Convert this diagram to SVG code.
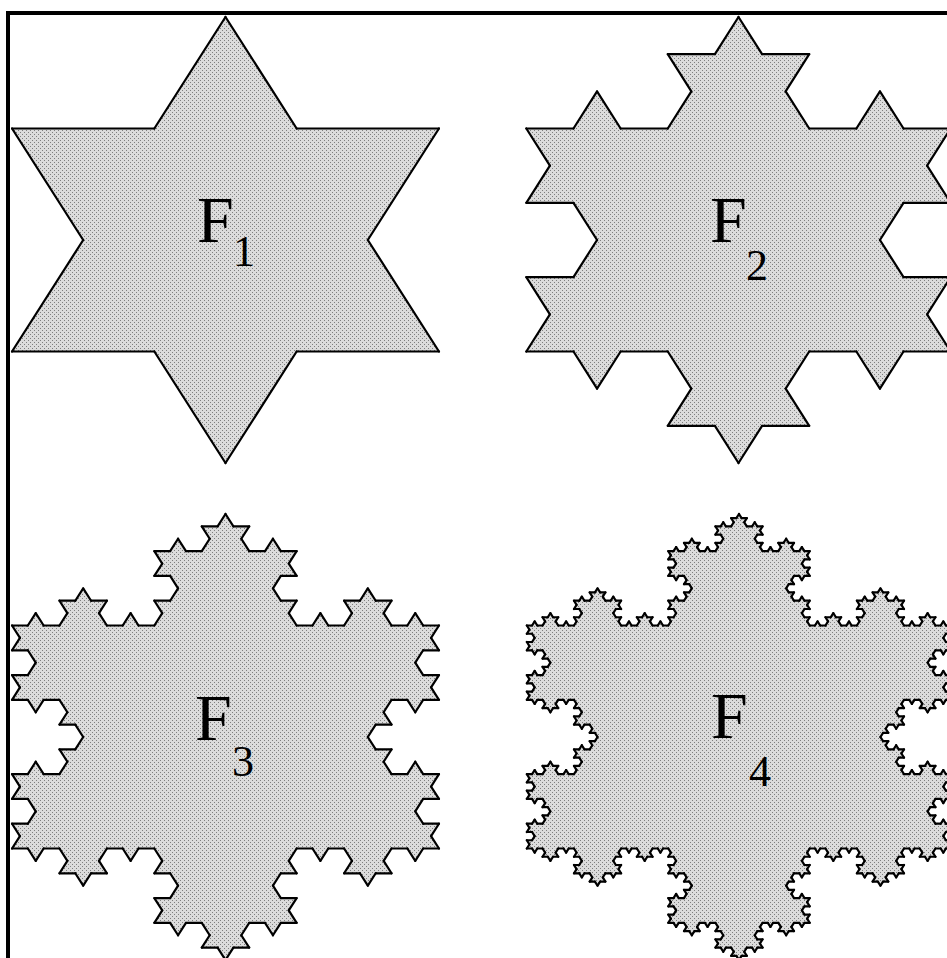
<svg xmlns="http://www.w3.org/2000/svg" xmlns:xlink="http://www.w3.org/1999/xlink" width="947" height="958" viewBox="0 0 947 958">
<style>
.edge{stroke:#000;stroke-width:2.2;stroke-linecap:round;fill:none;vector-effect:non-scaling-stroke}
.ms{fill:#fff;stroke:#fff;stroke-width:1;stroke-linejoin:round;vector-effect:non-scaling-stroke}
.lbl{font-family:"Liberation Serif","Times New Roman",serif;fill:#000}
.big{font-size:66px}
.sub{font-size:44px}
.frame{stroke:#000;stroke-width:4;fill:none;stroke-linejoin:miter}
</style>
<defs>
<pattern id="dots" patternUnits="userSpaceOnUse" width="4" height="4">
<rect width="4" height="4" fill="#dcdcdc"/>
<rect width="1" height="1" fill="#7f7f7f"/>
<rect x="2" y="2" width="1" height="1" fill="#7f7f7f"/>
</pattern>
<!-- Koch curve outlines -->
<line id="k0" class="edge" x1="0" y1="0" x2="1" y2="0"/>
<g id="k1">
<use href="#k0" transform="scale(0.333333)"/>
<use href="#k0" transform="translate(0.333333,0) rotate(-60) scale(0.333333)"/>
<use href="#k0" transform="translate(0.5,-0.288675) rotate(60) scale(0.333333)"/>
<use href="#k0" transform="translate(0.666667,0) scale(0.333333)"/>
</g>
<g id="k2">
<use href="#k1" transform="scale(0.333333)"/>
<use href="#k1" transform="translate(0.333333,0) rotate(-60) scale(0.333333)"/>
<use href="#k1" transform="translate(0.5,-0.288675) rotate(60) scale(0.333333)"/>
<use href="#k1" transform="translate(0.666667,0) scale(0.333333)"/>
</g>
<g id="k3">
<use href="#k2" transform="scale(0.333333)"/>
<use href="#k2" transform="translate(0.333333,0) rotate(-60) scale(0.333333)"/>
<use href="#k2" transform="translate(0.5,-0.288675) rotate(60) scale(0.333333)"/>
<use href="#k2" transform="translate(0.666667,0) scale(0.333333)"/>
</g>
<g id="k4">
<use href="#k3" transform="scale(0.333333)"/>
<use href="#k3" transform="translate(0.333333,0) rotate(-60) scale(0.333333)"/>
<use href="#k3" transform="translate(0.5,-0.288675) rotate(60) scale(0.333333)"/>
<use href="#k3" transform="translate(0.666667,0) scale(0.333333)"/>
</g>
<!-- Koch bump fill regions -->
<polygon id="r1" class="ms" points="0.333333,0 0.5,-0.288675 0.666667,0"/>
<g id="r2">
<use href="#r1"/>
<use href="#r1" transform="scale(0.333333)"/>
<use href="#r1" transform="translate(0.333333,0) rotate(-60) scale(0.333333)"/>
<use href="#r1" transform="translate(0.5,-0.288675) rotate(60) scale(0.333333)"/>
<use href="#r1" transform="translate(0.666667,0) scale(0.333333)"/>
</g>
<g id="r3">
<use href="#r1"/>
<use href="#r2" transform="scale(0.333333)"/>
<use href="#r2" transform="translate(0.333333,0) rotate(-60) scale(0.333333)"/>
<use href="#r2" transform="translate(0.5,-0.288675) rotate(60) scale(0.333333)"/>
<use href="#r2" transform="translate(0.666667,0) scale(0.333333)"/>
</g>
<g id="r4">
<use href="#r1"/>
<use href="#r3" transform="scale(0.333333)"/>
<use href="#r3" transform="translate(0.333333,0) rotate(-60) scale(0.333333)"/>
<use href="#r3" transform="translate(0.5,-0.288675) rotate(60) scale(0.333333)"/>
<use href="#r3" transform="translate(0.666667,0) scale(0.333333)"/>
</g>
<polygon id="tri" class="ms" points="0,-1 0.866025,0.5 -0.866025,0.5"/>
<!-- snowflake fills (unit) -->
<g id="sf1"><use href="#tri"/>
<use href="#r1" transform="translate(0,-1) rotate(60) scale(1.732051)"/>
<use href="#r1" transform="translate(0.866025,0.5) rotate(180) scale(1.732051)"/>
<use href="#r1" transform="translate(-0.866025,0.5) rotate(-60) scale(1.732051)"/></g>
<g id="sf2"><use href="#tri"/>
<use href="#r2" transform="translate(0,-1) rotate(60) scale(1.732051)"/>
<use href="#r2" transform="translate(0.866025,0.5) rotate(180) scale(1.732051)"/>
<use href="#r2" transform="translate(-0.866025,0.5) rotate(-60) scale(1.732051)"/></g>
<g id="sf3"><use href="#tri"/>
<use href="#r3" transform="translate(0,-1) rotate(60) scale(1.732051)"/>
<use href="#r3" transform="translate(0.866025,0.5) rotate(180) scale(1.732051)"/>
<use href="#r3" transform="translate(-0.866025,0.5) rotate(-60) scale(1.732051)"/></g>
<g id="sf4"><use href="#tri"/>
<use href="#r4" transform="translate(0,-1) rotate(60) scale(1.732051)"/>
<use href="#r4" transform="translate(0.866025,0.5) rotate(180) scale(1.732051)"/>
<use href="#r4" transform="translate(-0.866025,0.5) rotate(-60) scale(1.732051)"/></g>
<!-- snowflake outlines (unit) -->
<g id="so1">
<use href="#k1" transform="translate(0,-1) rotate(60) scale(1.732051)"/>
<use href="#k1" transform="translate(0.866025,0.5) rotate(180) scale(1.732051)"/>
<use href="#k1" transform="translate(-0.866025,0.5) rotate(-60) scale(1.732051)"/></g>
<g id="so2">
<use href="#k2" transform="translate(0,-1) rotate(60) scale(1.732051)"/>
<use href="#k2" transform="translate(0.866025,0.5) rotate(180) scale(1.732051)"/>
<use href="#k2" transform="translate(-0.866025,0.5) rotate(-60) scale(1.732051)"/></g>
<g id="so3">
<use href="#k3" transform="translate(0,-1) rotate(60) scale(1.732051)"/>
<use href="#k3" transform="translate(0.866025,0.5) rotate(180) scale(1.732051)"/>
<use href="#k3" transform="translate(-0.866025,0.5) rotate(-60) scale(1.732051)"/></g>
<g id="so4">
<use href="#k4" transform="translate(0,-1) rotate(60) scale(1.732051)"/>
<use href="#k4" transform="translate(0.866025,0.5) rotate(180) scale(1.732051)"/>
<use href="#k4" transform="translate(-0.866025,0.5) rotate(-60) scale(1.732051)"/></g>
<mask id="m1" maskUnits="userSpaceOnUse" x="0" y="0" width="947" height="958"><use href="#sf1" transform="translate(225.5,240) scale(246.5,223)"/></mask>
<mask id="m2" maskUnits="userSpaceOnUse" x="0" y="0" width="947" height="958"><use href="#sf2" transform="translate(738.5,240) scale(245,223)"/></mask>
<mask id="m3" maskUnits="userSpaceOnUse" x="0" y="0" width="947" height="958"><use href="#sf3" transform="translate(225.5,737) scale(246.5,223)"/></mask>
<mask id="m4" maskUnits="userSpaceOnUse" x="0" y="0" width="947" height="958"><use href="#sf4" transform="translate(739,737) scale(245,223)"/></mask>
</defs>
<rect width="947" height="958" fill="#fff"/>
<g id="F1">
<rect x="0" y="0" width="480" height="490" fill="url(#dots)" mask="url(#m1)"/>
<use href="#so1" transform="translate(225.5,240) scale(246.5,223)"/>
<text class="lbl big" x="197" y="242">F</text><text class="lbl sub" x="233" y="266">1</text>
</g>
<g id="F2">
<rect x="480" y="0" width="467" height="490" fill="url(#dots)" mask="url(#m2)"/>
<use href="#so2" transform="translate(738.5,240) scale(245,223)"/>
<text class="lbl big" x="710" y="242">F</text><text class="lbl sub" x="746" y="280">2</text>
</g>
<g id="F3">
<rect x="0" y="490" width="480" height="468" fill="url(#dots)" mask="url(#m3)"/>
<use href="#so3" transform="translate(225.5,737) scale(246.5,223)"/>
<text class="lbl big" x="195" y="740">F</text><text class="lbl sub" x="232" y="776">3</text>
</g>
<g id="F4">
<rect x="480" y="490" width="467" height="468" fill="url(#dots)" mask="url(#m4)"/>
<use href="#so4" transform="translate(739,737) scale(245,223)"/>
<text class="lbl big" x="711" y="738">F</text><text class="lbl sub" x="749" y="786">4</text>
</g>
<path class="frame" d="M8,958 V13 H947"/>
</svg>
